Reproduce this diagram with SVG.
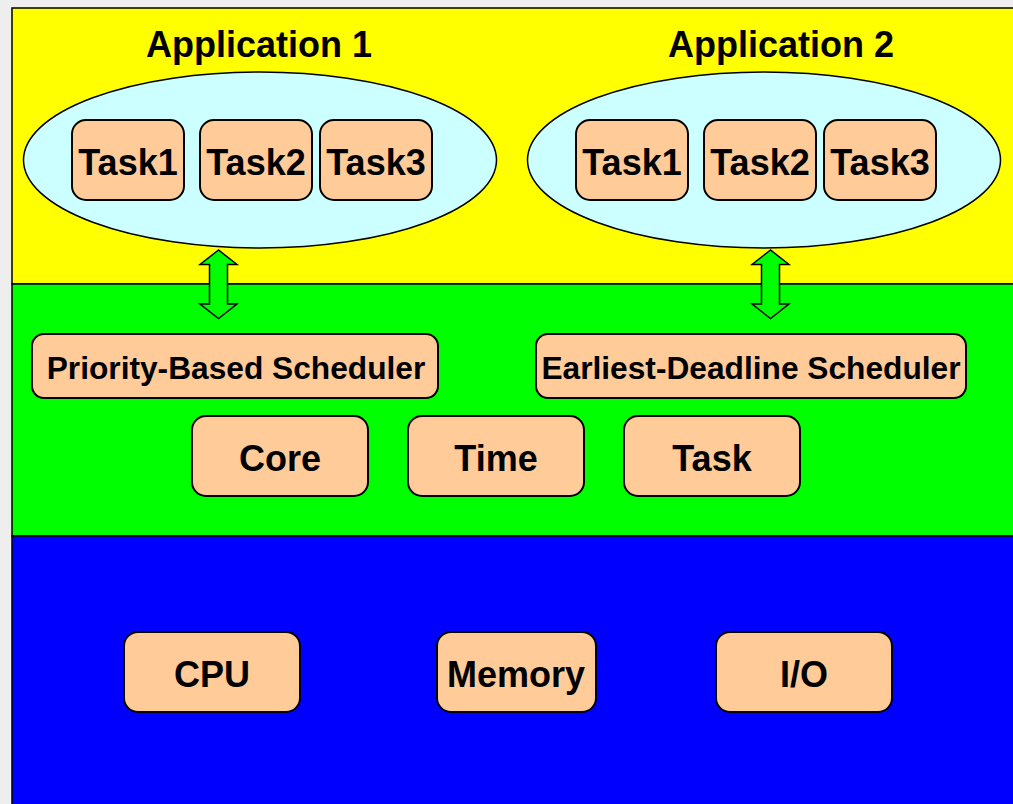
<svg xmlns="http://www.w3.org/2000/svg" width="1013" height="804" viewBox="0 0 1013 804">
<style>
text{font-family:"Liberation Sans",Arial,sans-serif;font-weight:bold;fill:#000;text-anchor:middle}
.layer{stroke:#000;stroke-width:1.5}
.box{fill:#ffcc99;stroke:#000;stroke-width:2}
.ell{fill:#ccffff;stroke:#000;stroke-width:1.5}
.arrow{fill:#00ff00;stroke:#000;stroke-width:1.5;stroke-linejoin:miter}
.t36{font-size:36px}
.t32{font-size:31.7px}
</style>
<rect x="0" y="0" width="1013" height="804" fill="#eeeeee"/>
<g id="layer-app">
<rect class="layer" x="12" y="8" width="1010" height="276" fill="#ffff00"/>
<text class="t36" x="259" y="57">Application 1</text>
<text class="t36" x="781" y="57">Application 2</text>
</g>
<g id="layer-kernel">
<rect class="layer" x="12" y="284" width="1010" height="252" fill="#00ff00"/>
</g>
<g id="layer-hw">
<rect class="layer" x="12" y="536" width="1010" height="280" fill="#0000ff"/>
</g>
<g id="app1">
<ellipse class="ell" cx="260" cy="160" rx="236.5" ry="88"/>
</g>
<g id="app2">
<ellipse class="ell" cx="764" cy="160" rx="236.5" ry="88"/>
</g>
<g id="a1-task1"><rect class="box" x="72" y="120" width="112" height="80" rx="14"/><text class="t36" x="128" y="175">Task1</text></g>
<g id="a1-task2"><rect class="box" x="200" y="120" width="112" height="80" rx="14"/><text class="t36" x="256" y="175">Task2</text></g>
<g id="a1-task3"><rect class="box" x="320" y="120" width="112" height="80" rx="14"/><text class="t36" x="376" y="175">Task3</text></g>
<g id="a2-task1"><rect class="box" x="576" y="120" width="112" height="80" rx="14"/><text class="t36" x="632" y="175">Task1</text></g>
<g id="a2-task2"><rect class="box" x="704" y="120" width="112" height="80" rx="14"/><text class="t36" x="760" y="175">Task2</text></g>
<g id="a2-task3"><rect class="box" x="824" y="120" width="112" height="80" rx="14"/><text class="t36" x="880" y="175">Task3</text></g>
<g id="connectors">
<polygon class="arrow" points="218.5,250 200,264.5 209.5,264.5 209.5,304 200,304 218.5,318.5 237,304 227.5,304 227.5,264.5 237,264.5"/>
<polygon class="arrow" points="770.5,250 752,264.5 761.5,264.5 761.5,304 752,304 770.5,318.5 789,304 779.5,304 779.5,264.5 789,264.5"/>
</g>
<g id="priority-scheduler"><rect class="box" x="32" y="334" width="406" height="64" rx="12"/><text class="t32" x="236" y="379">Priority-Based Scheduler</text></g>
<g id="edf-scheduler"><rect class="box" x="536" y="334" width="430" height="64" rx="12"/><text class="t32" x="751" y="379">Earliest-Deadline Scheduler</text></g>
<g id="core"><rect class="box" x="192" y="416" width="176" height="80" rx="14"/><text class="t36" x="280" y="471">Core</text></g>
<g id="time"><rect class="box" x="408" y="416" width="176" height="80" rx="14"/><text class="t36" x="496" y="471">Time</text></g>
<g id="task"><rect class="box" x="624" y="416" width="176" height="80" rx="14"/><text class="t36" x="712" y="471">Task</text></g>
<g id="cpu"><rect class="box" x="124" y="632" width="176" height="80" rx="14"/><text class="t36" x="212" y="687">CPU</text></g>
<g id="memory"><rect class="box" x="437" y="632" width="159" height="80" rx="14"/><text class="t36" x="516" y="687">Memory</text></g>
<g id="io"><rect class="box" x="716" y="632" width="176" height="80" rx="14"/><text class="t36" x="804" y="687">I/O</text></g>
</svg>
